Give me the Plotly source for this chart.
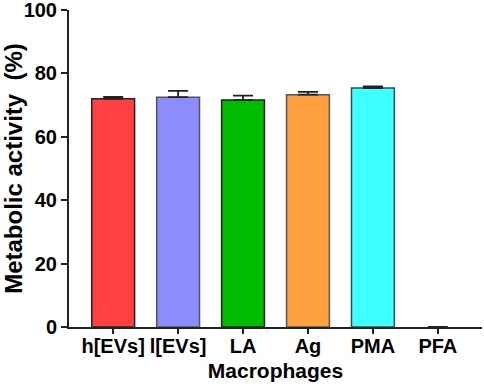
import plotly.graph_objects as go

categories = ["h[EVs]", "l[EVs]", "LA", "Ag", "PMA", "PFA"]
values = [72.0, 72.5, 71.6, 73.3, 75.4, 0]
errors = [0.6, 2.0, 1.4, 0.9, 0.5, None]
fill_colors = ["#FF4040", "#8C8CFF", "#00BB00", "#FFA040", "#40FFFF", "#FFFFFF"]
line_colors = ["#222222", "#555555", "#222222", "#555555", "#225555", "#FFFFFF"]
y_ticks = [0, 20, 40, 60, 80, 100]

fig = go.Figure()
fig.add_trace(go.Bar(
    x=list(range(len(categories))),
    y=values,
    width=0.66,
    marker=dict(color=fill_colors, line=dict(color=line_colors, width=1.5)),
    error_y=dict(type="data", array=errors, arrayminus=[0]*len(errors), symmetric=False,
                 color="#222222", thickness=1.8, width=10),
    showlegend=False,
))

font_family = "Liberation Sans, Arial, sans-serif"
fig.update_layout(
    width=484, height=388,
    margin=dict(l=69, r=2, t=10, b=61),
    plot_bgcolor="white", paper_bgcolor="white",
    font=dict(family=font_family, color="black"),
)
fig.update_xaxes(
    range=[-0.68, 5.68], automargin=False, tickangle=0, ticklabeloverflow="allow",
    ticklabelstandoff=-5,
    tickmode="array", tickvals=list(range(len(categories))), ticktext=categories,
    tickfont=dict(size=20, family=font_family, weight="bold", color="black"),
    ticks="outside", ticklen=5, tickwidth=2, tickcolor="#222222",
    showline=True, linecolor="#222222", linewidth=2,
    showgrid=False, zeroline=False,
    title=dict(text="<b>Macrophages</b>", font=dict(size=21, family=font_family), standoff=7),
)
fig.update_yaxes(
    range=[0, 100], automargin=False, ticklabeloverflow="allow",
    tickmode="array", tickvals=y_ticks, ticktext=[str(v) for v in y_ticks],
    tickfont=dict(size=20, family=font_family, weight="bold", color="black"),
    ticks="outside", ticklen=6, tickwidth=2, tickcolor="#222222",
    showline=True, linecolor="#222222", linewidth=2,
    showgrid=False, zeroline=False,
    title=dict(text="<b>Metabolic activity\u00a0\u00a0(%)</b>", font=dict(size=24, family=font_family), standoff=6),
)

fig.write_html("out.html", config={"displayModeBar": False},
               post_script="document.body.style.margin='0';document.body.style.overflow='hidden';")
